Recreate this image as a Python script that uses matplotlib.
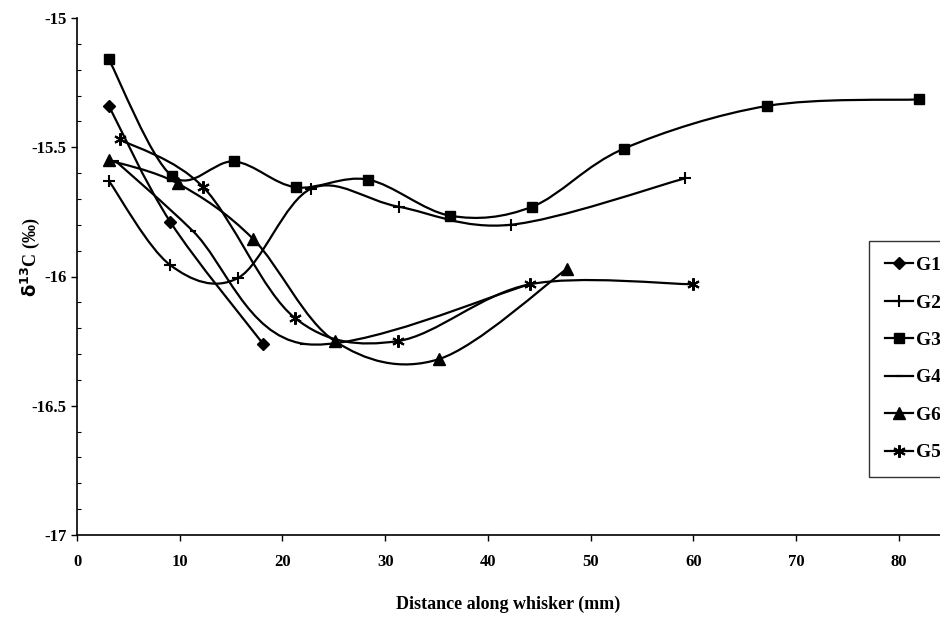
import numpy as np
import matplotlib
matplotlib.use("Agg")
import matplotlib.pyplot as plt
from matplotlib.path import Path
from matplotlib.patches import PathPatch
from matplotlib.lines import Line2D
from matplotlib.ticker import MultipleLocator

plt.rcParams['font.family'] = ['Liberation Serif', 'DejaVu Serif']

# delta 13C along the whisker, one series per group
g1_x = [3.1, 9.1, 18.1]
g1_y = [-15.34, -15.79, -16.26]

g2_x = [3.1, 9.05, 15.7, 22.8, 31.3, 42.2, 59.2]
g2_y = [-15.63, -15.955, -16.005, -15.66, -15.73, -15.80, -15.62]

g3_x = [3.1, 9.2, 15.3, 21.3, 28.3, 36.35, 44.3, 53.25, 67.2, 82.0]
g3_y = [-15.16, -15.61, -15.555, -15.655, -15.625, -15.765, -15.73, -15.505, -15.34, -15.315]

g4_x = [3.8, 11.3, 22.0, 44.1]
g4_y = [-15.555, -15.825, -16.26, -16.03]

g6_x = [3.1, 9.8, 17.15, 25.1, 35.2, 47.7]
g6_y = [-15.55, -15.64, -15.855, -16.25, -16.32, -15.97]

g5_x = [4.2, 12.3, 21.2, 31.2, 44.1, 60.0]
g5_y = [-15.47, -15.655, -16.16, -16.25, -16.03, -16.03]

labels = ['G1', 'G2', 'G3', 'G4', 'G6', 'G5']
x_ticks = [0, 10, 20, 30, 40, 50, 60, 70, 80]
y_ticks = [-17, -16.5, -16, -15.5, -15]


def smooth_path(xs, ys):
    # spreadsheet-style smoothed line: cubic bezier through every point
    p = np.column_stack([xs, ys])
    n = len(p)
    verts = [p[0]]
    codes = [Path.MOVETO]
    for i in range(n - 1):
        p0 = p[i - 1] if i > 0 else p[i]
        p1 = p[i]
        p2 = p[i + 1]
        p3 = p[i + 2] if i + 2 < n else p[i + 1]
        c1 = p1 + (p2 - p0) / 6.0
        c2 = p2 - (p3 - p1) / 6.0
        verts += [c1, c2, p2]
        codes += [Path.CURVE4] * 3
    return Path(verts, codes)


star = (6, 2, 0)
series = [
    (g1_x, g1_y, dict(marker='D', markersize=6)),
    (g2_x, g2_y, dict(marker='+', markersize=9, markeredgewidth=1.5)),
    (g3_x, g3_y, dict(marker='s', markersize=7)),
    (g4_x, g4_y, dict(marker='_', markersize=5, markeredgewidth=1.5)),
    (g6_x, g6_y, dict(marker='^', markersize=8)),
    (g5_x, g5_y, dict(marker=star, markersize=9, markeredgewidth=1.5)),
]

fig = plt.figure(figsize=(9.4, 6.18), dpi=100)
ax = fig.add_axes([77 / 940, 83 / 618, 863 / 940, 517 / 618])

handles = []
for (xs, ys, mk), lab in zip(series, labels):
    ax.add_patch(PathPatch(smooth_path(xs, ys), facecolor='none',
                           edgecolor='black', lw=1.6, zorder=2))
    ax.plot(xs, ys, linestyle='none', color='black', zorder=3, **mk)
    handles.append(Line2D([], [], color='black', lw=1.6, label=lab, **mk))

ax.set_xlim(0, 84)
ax.set_ylim(-17, -15)
ax.set_xticks(x_ticks)
ax.set_yticks(y_ticks)
ax.set_yticklabels(['-17', '-16.5', '-16', '-15.5', '-15'])
ax.yaxis.set_minor_locator(MultipleLocator(0.1))

for side in ['top', 'right']:
    ax.spines[side].set_visible(False)
for side in ['left', 'bottom']:
    ax.spines[side].set_linewidth(1.2)

ax.tick_params(axis='both', which='major', direction='out', length=4,
               width=1, labelsize=12)
ax.tick_params(axis='x', which='major', pad=10)
ax.tick_params(axis='y', which='minor', direction='in', length=3, width=0.8)
for t in ax.get_xticklabels() + ax.get_yticklabels():
    t.set_fontweight('bold')

ax.set_xlabel('Distance along whisker (mm)', fontsize=13, fontweight='bold',
              labelpad=18)
ax.set_ylabel(r'$\mathbf{\delta^{13}}$C (‰)', fontsize=13, fontweight='bold')
ax.yaxis.set_label_coords(-0.041, 0.538)

leg = ax.legend(handles=handles, loc='upper left',
                bbox_to_anchor=(869 / 940, 1 - 241 / 618),
                bbox_transform=fig.transFigure, borderaxespad=0,
                prop={'size': 14, 'weight': 'bold'}, frameon=True,
                fancybox=False, edgecolor='black',
                handlelength=1.45, handletextpad=0.15, labelspacing=1.02,
                borderpad=0.8)
leg.get_frame().set_linewidth(1.0)

fig.savefig('out.png', dpi=100)
